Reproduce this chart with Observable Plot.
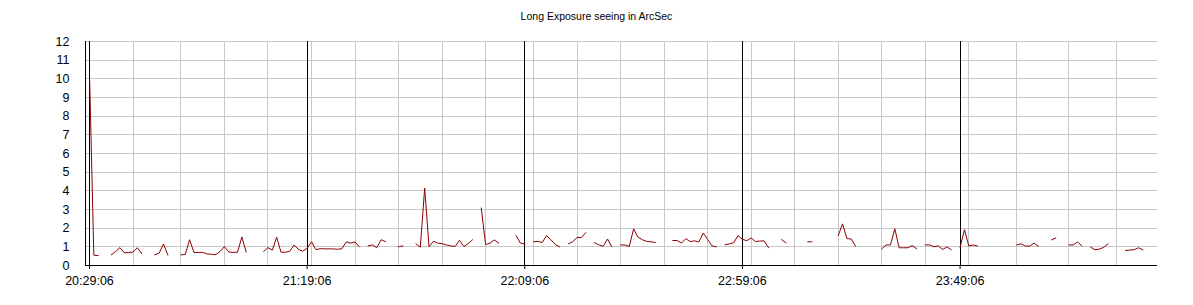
<!DOCTYPE html>
<html><head><meta charset="utf-8">
<script src="https://cdn.jsdelivr.net/npm/d3@7"></script>
<script src="https://cdn.jsdelivr.net/npm/@observablehq/plot@0.6"></script>
<style>
body{margin:0;background:#fff;font-family:"Liberation Sans",Arial,sans-serif;}
#title{height:30px;box-sizing:border-box;padding-top:10px;font-size:10.5px;line-height:12px;text-align:center;width:1193px;color:#000;}
#chart svg line{shape-rendering:crispEdges;}
</style></head><body>
<div id="title">Long Exposure seeing in ArcSec</div>
<div id="chart"></div>
<script>
// Sample times (HH:MM:SS) and long-exposure seeing (arcsec); null = no measurement (gap)
const times = [
"20:29:08","20:30:06","20:31:06","20:32:06",
"20:34:06","20:35:06","20:36:06","20:37:06","20:38:06","20:39:06","20:40:06","20:41:06","20:42:06",
"20:44:06","20:45:06","20:46:06","20:47:06","20:48:06",
"20:50:06","20:51:06","20:52:06","20:53:06","20:54:06","20:55:06","20:56:06","20:57:06","20:58:06","20:59:06","21:00:06","21:01:06","21:02:06","21:03:06","21:04:06","21:05:06","21:06:06",
"21:09:06","21:10:06","21:11:06","21:12:06","21:13:06","21:14:06","21:15:06","21:16:06","21:17:06","21:18:06","21:19:06","21:20:06","21:21:06","21:22:06","21:23:06","21:24:06","21:25:06","21:26:06","21:27:06","21:28:06","21:29:06","21:30:06","21:31:06","21:32:06",
"21:33:06","21:34:06","21:35:06","21:36:06","21:37:06","21:38:06",
"21:40:06","21:41:06","21:42:06",
"21:44:06","21:45:06","21:46:06","21:47:06","21:48:06","21:49:06","21:50:06","21:51:06","21:52:06","21:53:06","21:54:06","21:55:06","21:56:06","21:57:06","21:58:06",
"21:59:06","22:00:06","22:01:06","22:02:06","22:03:06","22:04:06",
"22:07:06","22:08:06","22:09:06","22:10:06",
"22:11:06","22:12:06","22:13:06","22:14:06","22:15:06","22:16:06","22:17:06","22:18:06",
"22:19:06","22:20:06","22:21:06","22:22:06","22:23:06","22:24:06",
"22:25:06","22:26:06","22:27:06","22:28:06","22:29:06","22:30:06",
"22:31:06","22:32:06","22:33:06","22:34:06","22:35:06","22:36:06","22:37:06","22:38:06","22:39:06","22:40:06",
"22:43:06","22:44:06","22:45:06","22:46:06","22:47:06","22:48:06","22:49:06","22:50:06","22:51:06","22:52:06","22:53:06","22:54:06",
"22:55:06","22:56:06","22:57:06","22:58:06","22:59:06","23:00:06","23:01:06","23:02:06","23:03:06","23:04:06","23:05:06","23:06:06",
"23:08:06","23:09:06","23:10:06",
"23:14:06","23:15:06","23:16:06",
"23:21:06","23:22:06","23:23:06","23:24:06","23:25:06","23:26:06",
"23:31:06","23:32:06","23:33:06","23:34:06","23:35:06","23:36:06","23:37:06","23:38:06","23:39:06","23:40:06",
"23:41:06","23:42:06","23:43:06","23:44:06","23:45:06","23:46:06","23:47:06","23:48:06",
"23:49:06","23:50:06","23:51:06","23:52:06","23:53:06","23:54:06",
"00:02:06","00:03:06","00:04:06","00:05:06","00:06:06","00:07:06","00:08:06",
"00:10:06","00:11:06","00:12:06",
"00:14:06","00:15:06","00:16:06","00:17:06","00:18:06",
"00:19:06","00:20:06","00:21:06","00:22:06","00:23:06","00:24:06",
"00:27:06","00:28:06","00:29:06","00:30:06","00:31:06"
];
const seeing = [
10.0,0.55,0.53,null,
0.57,0.75,0.96,0.68,0.70,0.72,0.95,0.63,null,
0.57,0.66,1.15,0.56,null,
0.57,0.59,1.38,0.70,0.70,0.70,0.62,0.60,0.58,0.75,1.01,0.72,0.70,0.71,1.53,0.72,null,
0.75,0.96,0.82,1.52,0.71,0.71,0.76,1.10,0.86,0.77,0.92,1.27,0.85,0.90,0.89,0.89,0.89,0.87,0.90,1.27,1.20,1.26,1.00,null,
1.05,1.10,0.95,1.38,1.28,null,
1.00,1.05,null,
1.16,0.98,4.15,1.00,1.30,1.20,1.17,1.10,1.05,1.02,1.35,1.02,1.17,1.38,null,
3.08,1.12,1.20,1.37,1.20,null,
1.60,1.20,1.15,null,
1.27,1.29,1.23,1.60,1.38,1.13,1.00,null,
1.16,1.27,1.50,1.50,1.76,null,
1.22,1.11,1.02,1.42,1.00,null,
1.10,1.10,1.02,1.96,1.52,1.38,1.29,1.27,1.23,null,
1.34,1.34,1.20,1.44,1.28,1.32,1.26,1.74,1.40,1.05,1.00,null,
1.11,1.16,1.22,1.60,1.40,1.33,1.47,1.28,1.31,1.32,0.95,null,
1.39,1.21,null,
1.27,1.27,null,
1.60,2.23,1.44,1.42,1.03,null,
0.89,1.10,1.10,1.97,0.95,0.95,0.95,1.07,0.90,null,
1.10,1.10,1.00,1.05,0.86,1.00,0.84,null,
0.97,1.92,1.05,1.10,1.04,null,
1.10,1.16,1.04,1.04,1.20,1.03,null,
1.37,1.48,null,
1.10,1.10,1.26,1.04,null,
0.98,0.84,0.88,0.97,1.17,null,
0.80,0.83,0.85,0.95,0.84
];
// Labelled (black) x grid lines / tick labels
const tickLabels = ["20:29:06","21:19:06","22:09:06","22:59:06","23:49:06"];
// Light grey vertical grid lines
const gridTimes = ["20:39:06","20:50:06","21:00:06","21:10:06","21:20:06","21:30:06","21:40:06","21:50:06","22:00:06",
  "22:11:06","22:21:06","22:31:06","22:41:06","22:51:06","23:01:06","23:11:06","23:21:06","23:31:06","23:41:06","23:51:06",
  "00:02:06","00:14:06","00:25:06"];
const yTicks = [0,1,2,3,4,5,6,7,8,9,10,11,12];
const xDomain = ["20:28:11","00:34:27"];

function toDate(s){
  const [h,m,sec] = s.split(":").map(Number);
  return new Date(Date.UTC(2000,0,h<12?2:1,h,m,sec));
}
const data = times.map((t,i)=>({time:toDate(t), value:seeing[i]}));

const chart = Plot.plot({
  width:1193, height:275,
  marginLeft:85, marginRight:36, marginTop:11, marginBottom:40,
  style:{fontFamily:'"Liberation Sans", Arial, sans-serif', fontSize:"12.5px", color:"black", background:"white", overflow:"visible"},
  x:{type:"utc", domain:xDomain.map(toDate)},
  y:{domain:[0,12]},
  marks:[
    Plot.ruleY(yTicks.filter(d=>d>0), {stroke:"#c8c8c8", strokeOpacity:1}),
    Plot.ruleX(gridTimes.map(toDate), {stroke:"#c8c8c8", strokeOpacity:1}),
    Plot.ruleX(tickLabels.map(toDate), {stroke:"black", strokeOpacity:1}),
    Plot.ruleX([toDate(xDomain[0])], {stroke:"black", strokeOpacity:1}),
    Plot.ruleY([0], {stroke:"black", strokeOpacity:1}),
    Plot.line(data, {x:"time", y:"value", stroke:"#8b0000", strokeWidth:1, strokeLinejoin:"miter", strokeMiterlimit:1}),
    Plot.axisX({ticks:tickLabels.map(toDate), tickFormat:d3.utcFormat("%H:%M:%S"), tickSize:4, tickPadding:7, label:null, strokeOpacity:1}),
    Plot.axisY({ticks:yTicks, tickSize:0, tickPadding:16, label:null})
  ]
});
document.getElementById("chart").appendChild(chart);
</script>
</body></html>
